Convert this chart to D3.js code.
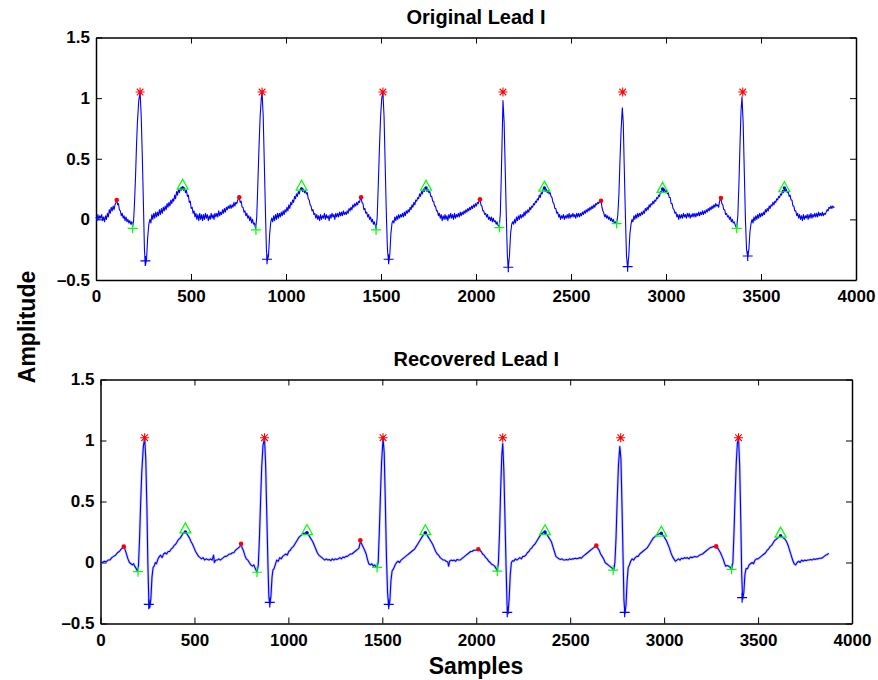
<!DOCTYPE html>
<meta charset="utf-8">
<style>
  body { margin: 0; background: #fff; }
  svg { font-family: "Liberation Sans", Arial, sans-serif; }
  .tick text { font-size: 17px; font-weight: bold; fill: #000; }
  .title { font-size: 20px; font-weight: bold; text-anchor: middle; }
  .label { font-size: 23px; font-weight: bold; text-anchor: middle; }
</style>
<svg width="878" height="680"></svg>
<script src="https://cdnjs.cloudflare.com/ajax/libs/d3/7.8.5/d3.min.js"></script>
<script>
// ticks
var xTicks = [0, 500, 1000, 1500, 2000, 2500, 3000, 3500, 4000];
var yTicks = [-0.5, 0, 0.5, 1, 1.5];

// Original lead I trace: [sample, amplitude]
var origLead = [
 [0,0.02],[5,-0.01],[10,0.04],[15,0.0],[20,0.03],[25,0.01],[30,0.04],[35,-0.01],[40,0.02],[45,-0.02],[50,0.03],[55,0.0],[60,0.05],[65,0.02],[70,0.08],[75,0.05],[80,0.1],[85,0.07],[90,0.11],[95,0.08],[100,0.12],[105,0.14],[109,0.16],[114,0.12],[118,0.13],[123,0.08],[128,0.07],[133,0.03],[138,0.05],[143,0.01],[148,0.03],[153,-0.01],[158,0.02],[163,-0.02],[168,0.0],[173,-0.03],[178,-0.01],[183,-0.04],[188,-0.02],[193,-0.06],[198,-0.01],[203,0.15],[208,0.35],[213,0.6],[218,0.8],[225,0.98],[232,1.05],[238,0.85],[244,0.5],[250,0.1],[255,-0.25],[260,-0.38],[266,-0.33],[272,-0.15],[278,-0.04],
 [284,0.0],[289,-0.03],[294,0.04],[299,0.0],[304,0.05],[309,0.01],[314,0.06],[319,0.02],[324,0.06],[329,0.03],[334,0.08],[339,0.04],[344,0.09],[349,0.05],[354,0.1],[359,0.07],[364,0.11],[369,0.08],[374,0.13],[379,0.1],[384,0.14],[389,0.11],[394,0.16],[399,0.13],[404,0.17],[409,0.15],[414,0.2],[419,0.17],[424,0.23],[429,0.2],[434,0.25],[439,0.22],[444,0.26],[449,0.24],[456,0.27],[461,0.24],[466,0.26],[471,0.22],[476,0.24],[481,0.19],[486,0.2],[491,0.14],[496,0.15],[501,0.09],[506,0.1],[511,0.05],[516,0.07],[521,0.02],[526,0.05],[531,0.0],[536,0.04],[541,-0.01],[546,0.05],[551,0.0],[556,0.04],[561,-0.01],[566,0.04],[571,0.0],[576,0.05],[581,0.01],[586,0.04],[591,-0.01],[596,0.03],[601,0.0],[606,0.05],[611,0.01],[616,0.04],[621,0.0],[626,0.05],[631,0.02],[636,0.05],[641,0.02],[646,0.07],[651,0.03],[656,0.06],[661,0.04],[666,0.08],[671,0.05],[676,0.09],[681,0.06],[686,0.1],[691,0.08],[696,0.11],[701,0.09],[706,0.12],[711,0.09],[716,0.12],[721,0.1],[726,0.14],[731,0.11],[736,0.14],[741,0.13],[746,0.16],[750,0.17],
 [754,0.18],[759,0.14],[764,0.15],[769,0.1],[774,0.1],[779,0.06],[784,0.07],[789,0.03],[794,0.05],[799,0.01],[804,0.03],[809,-0.01],[814,0.02],[819,-0.03],[824,0.0],[829,-0.04],[834,-0.03],[840,-0.08],[846,0.02],[852,0.3],[858,0.6],[864,0.85],[870,1.0],[874,1.05],[880,0.85],[886,0.45],[892,0.05],[897,-0.25],[902,-0.34],[908,-0.3],[914,-0.12],[920,-0.02],[925,0.01],[930,-0.02],
 [935,0.03],[940,-0.01],[945,0.04],[950,0.0],[955,0.05],[960,0.01],[965,0.05],[970,0.02],[975,0.06],[980,0.03],[985,0.07],[990,0.04],[995,0.08],[1000,0.06],[1005,0.1],[1010,0.07],[1015,0.12],[1020,0.09],[1025,0.14],[1030,0.12],[1035,0.16],[1040,0.14],[1045,0.19],[1050,0.17],[1055,0.21],[1060,0.19],[1065,0.23],[1070,0.21],[1075,0.25],[1082,0.26],[1087,0.23],[1092,0.25],[1097,0.22],[1102,0.24],[1107,0.21],[1112,0.22],[1117,0.17],[1122,0.16],[1127,0.12],[1132,0.11],[1137,0.07],[1142,0.08],[1147,0.04],[1152,0.05],[1157,0.01],
 [1162,0.04],[1167,0.0],[1172,0.03],[1177,-0.01],[1182,0.04],[1187,0.0],[1192,0.03],[1197,0.01],[1202,0.05],[1207,0.0],[1212,0.04],[1217,0.01],[1222,0.03],[1227,-0.01],[1232,0.04],[1237,0.01],[1242,0.05],[1247,0.02],[1252,0.04],[1257,0.0],[1262,0.05],[1267,0.02],[1272,0.05],[1277,0.02],[1282,0.06],[1287,0.03],[1292,0.06],[1297,0.03],[1302,0.07],[1307,0.04],[1312,0.06],[1317,0.04],[1322,0.07],[1327,0.05],[1332,0.09],[1337,0.07],[1342,0.1],[1347,0.08],[1352,0.12],[1357,0.1],[1362,0.13],[1367,0.11],[1372,0.14],[1377,0.12],[1382,0.15],[1387,0.14],[1391,0.17],[1395,0.18],[1400,0.14],[1405,0.13],[1410,0.08],[1415,0.09],[1420,0.05],[1425,0.06],[1430,0.02],[1435,0.04],[1440,0.0],[1445,0.02],[1450,-0.02],[1455,0.0],[1460,-0.04],[1465,-0.02],[1470,-0.05],[1474,-0.08],[1480,0.02],[1486,0.3],[1492,0.6],[1498,0.85],[1504,1.0],[1510,1.05],[1516,0.85],[1522,0.45],[1528,0.05],[1534,-0.25],[1540,-0.36],[1546,-0.3],[1552,-0.12],[1558,-0.03],[1563,-0.01],
 [1568,-0.03],[1573,0.02],[1578,-0.01],[1583,0.03],[1588,0.0],[1593,0.04],[1598,0.01],[1603,0.04],[1608,0.02],[1613,0.05],[1618,0.02],[1623,0.06],[1628,0.03],[1633,0.07],[1638,0.05],[1643,0.08],[1648,0.06],[1653,0.1],[1658,0.08],[1663,0.12],[1668,0.1],[1673,0.14],[1678,0.12],[1683,0.16],[1688,0.15],[1693,0.18],[1698,0.17],[1703,0.21],[1708,0.19],[1713,0.23],[1718,0.21],[1723,0.25],[1728,0.23],[1733,0.26],[1737,0.26],[1742,0.23],[1747,0.25],[1752,0.22],[1757,0.23],[1762,0.19],[1767,0.19],[1772,0.15],[1777,0.15],[1782,0.11],[1787,0.11],[1792,0.07],[1797,0.07],[1802,0.03],[1807,0.05],
 [1812,0.01],[1817,0.04],[1822,-0.01],[1827,0.03],[1832,0.0],[1837,0.04],[1842,0.0],[1847,0.03],[1852,-0.01],[1857,0.04],[1862,0.01],[1867,0.05],[1872,0.01],[1877,0.04],[1882,0.0],[1887,0.05],[1892,0.01],[1897,0.04],[1902,0.02],[1907,0.05],[1912,0.02],[1917,0.06],[1922,0.03],[1927,0.06],[1932,0.04],[1937,0.07],[1942,0.05],[1947,0.08],[1952,0.06],[1957,0.09],[1962,0.07],[1967,0.1],[1972,0.08],[1977,0.11],[1982,0.09],[1987,0.12],[1992,0.1],[1997,0.13],[2002,0.11],[2007,0.14],[2012,0.13],[2017,0.16],[2021,0.165],[2026,0.12],[2031,0.11],[2036,0.07],[2041,0.07],[2046,0.04],[2051,0.05],[2056,0.02],[2061,0.04],[2066,0.0],[2071,0.02],[2076,-0.01],[2081,0.02],[2086,-0.02],[2091,0.01],[2096,-0.02],[2101,-0.01],[2106,-0.04],[2111,-0.02],[2116,-0.05],[2123,-0.06],[2128,0.05],[2133,0.35],[2138,0.7],[2142,0.98],[2148,0.8],[2154,0.4],[2160,0.0],[2165,-0.3],[2170,-0.4],[2176,-0.3],[2182,-0.12],[2188,-0.04],[2193,-0.02],
 [2198,-0.04],[2203,0.0],[2208,-0.03],[2213,0.02],[2218,-0.01],[2223,0.03],[2228,0.0],[2233,0.04],[2238,0.01],[2243,0.04],[2248,0.02],[2253,0.06],[2258,0.03],[2263,0.07],[2268,0.05],[2273,0.08],[2278,0.06],[2283,0.1],[2288,0.08],[2293,0.11],[2298,0.1],[2303,0.13],[2308,0.12],[2313,0.15],[2318,0.14],[2323,0.17],[2328,0.16],[2333,0.2],[2338,0.18],[2343,0.22],[2348,0.21],[2353,0.25],[2360,0.26],[2365,0.23],[2370,0.25],[2375,0.22],[2380,0.24],[2385,0.21],[2390,0.22],[2395,0.19],[2400,0.18],[2405,0.14],[2410,0.13],[2415,0.09],[2420,0.09],[2425,0.05],[2430,0.06],
 [2435,0.02],[2440,0.04],[2445,0.0],[2450,0.03],[2455,0.01],[2460,0.04],[2465,0.0],[2470,0.03],[2475,0.01],[2480,0.04],[2485,0.01],[2490,0.05],[2495,0.01],[2500,0.04],[2505,0.02],[2510,0.05],[2515,0.02],[2520,0.04],[2525,0.01],[2530,0.05],[2535,0.02],[2540,0.05],[2545,0.02],[2550,0.05],[2555,0.03],[2560,0.06],[2565,0.04],[2570,0.07],[2575,0.05],[2580,0.08],[2585,0.06],[2590,0.09],[2595,0.07],[2600,0.1],[2605,0.08],[2610,0.11],[2615,0.09],[2620,0.12],[2625,0.1],[2630,0.13],[2635,0.12],[2640,0.14],[2645,0.13],[2650,0.15],[2654,0.14],[2658,0.155],[2663,0.1],[2668,0.07],[2673,0.05],[2678,0.02],[2683,0.04],[2688,0.01],[2693,0.03],[2698,0.0],[2703,0.02],[2708,-0.01],[2713,0.01],[2718,-0.02],[2723,0.0],[2728,-0.03],[2734,-0.02],[2740,-0.035],[2746,0.03],[2752,0.2],[2758,0.5],[2764,0.75],[2770,0.92],[2775,0.8],[2780,0.45],[2786,0.05],[2792,-0.3],[2798,-0.4],[2804,-0.3],[2810,-0.12],[2816,-0.04],[2821,0.0],
 [2826,-0.02],[2831,0.03],[2836,0.0],[2841,0.04],[2846,0.01],[2851,0.05],[2856,0.02],[2861,0.05],[2866,0.03],[2871,0.06],[2876,0.04],[2881,0.07],[2886,0.05],[2891,0.09],[2896,0.07],[2901,0.1],[2906,0.08],[2911,0.12],[2916,0.1],[2921,0.13],[2926,0.12],[2931,0.15],[2936,0.13],[2941,0.16],[2946,0.15],[2951,0.18],[2956,0.17],[2961,0.2],[2966,0.19],[2971,0.23],[2976,0.22],[2982,0.25],[2987,0.23],[2992,0.25],[2997,0.22],[3002,0.24],[3007,0.21],[3012,0.22],[3017,0.18],[3022,0.18],[3027,0.13],[3032,0.13],[3037,0.09],[3042,0.08],[3047,0.05],[3052,0.06],[3057,0.02],
 [3062,0.04],[3067,0.0],[3072,0.04],[3077,0.01],[3082,0.04],[3087,0.01],[3092,0.05],[3097,0.02],[3102,0.04],[3107,0.01],[3112,0.05],[3117,0.02],[3122,0.05],[3127,0.01],[3132,0.04],[3137,0.02],[3142,0.05],[3147,0.02],[3152,0.05],[3157,0.02],[3162,0.05],[3167,0.03],[3172,0.06],[3177,0.03],[3182,0.06],[3187,0.04],[3192,0.07],[3197,0.04],[3202,0.07],[3207,0.05],[3212,0.08],[3217,0.06],[3222,0.09],[3227,0.07],[3232,0.1],[3237,0.08],[3242,0.11],[3247,0.09],[3252,0.12],[3257,0.1],[3262,0.13],[3267,0.11],[3272,0.12],[3277,0.1],[3282,0.15],[3289,0.175],[3294,0.13],[3299,0.12],[3304,0.08],[3309,0.08],[3314,0.04],[3319,0.05],[3324,0.02],[3329,0.03],[3334,0.0],[3339,0.02],[3344,-0.02],[3349,0.0],[3354,-0.03],[3359,-0.02],[3365,-0.05],[3372,-0.07],[3378,0.03],[3384,0.3],[3390,0.65],[3395,0.9],[3400,1.01],[3406,0.8],[3412,0.4],[3418,0.0],[3424,-0.25],[3430,-0.31],[3436,-0.25],[3442,-0.1],[3448,-0.03],[3453,0.0],
 [3458,-0.03],[3463,0.02],[3468,-0.01],[3473,0.03],[3478,0.0],[3483,0.04],[3488,0.01],[3493,0.05],[3498,0.02],[3503,0.05],[3508,0.03],[3513,0.06],[3518,0.04],[3523,0.08],[3528,0.06],[3533,0.09],[3538,0.07],[3543,0.11],[3548,0.09],[3553,0.12],[3558,0.11],[3563,0.14],[3568,0.12],[3573,0.15],[3578,0.14],[3583,0.17],[3588,0.16],[3593,0.19],[3598,0.18],[3603,0.21],[3608,0.2],[3613,0.24],[3618,0.22],[3623,0.26],[3628,0.23],[3633,0.25],[3638,0.22],[3643,0.23],[3648,0.19],[3653,0.2],[3658,0.16],[3663,0.16],[3668,0.11],[3673,0.11],[3678,0.07],[3683,0.07],[3688,0.03],[3693,0.05],
 [3698,0.01],[3703,0.04],[3708,0.0],[3713,0.03],[3718,-0.01],[3723,0.04],[3728,0.0],[3733,0.03],[3738,0.01],[3743,0.04],[3748,0.0],[3753,0.04],[3758,0.01],[3763,0.05],[3768,0.01],[3773,0.04],[3778,0.02],[3783,0.05],[3788,0.02],[3793,0.05],[3798,0.02],[3803,0.06],[3808,0.03],[3813,0.05],[3818,0.03],[3823,0.06],[3828,0.03],[3833,0.05],[3838,0.04],[3843,0.06],[3848,0.08],[3853,0.07],[3858,0.1],[3863,0.09],[3868,0.11],[3873,0.09],[3878,0.11],[3886,0.095]
];

// Recovered lead I trace: [sample, amplitude]
var recLead = [
 [0,0.005],[10,0.0],[20,0.01],[30,0.005],[40,0.02],[50,0.02],[60,0.04],[70,0.05],[80,0.06],[90,0.08],[100,0.09],[110,0.11],[118,0.12],[124,0.125],[130,0.11],[138,0.07],[146,0.03],[154,0.0],[162,-0.01],[170,-0.02],[176,-0.01],[182,-0.03],[190,-0.05],[196,-0.07],[202,-0.03],[208,0.2],[214,0.5],[220,0.75],[228,0.95],[235,1.02],[241,0.85],[247,0.45],[252,0.0],[257,-0.3],[262,-0.37],[268,-0.3],[274,-0.12],[280,-0.04],[286,-0.03],[292,0.0],[298,-0.01],
 [306,0.03],[314,0.05],[320,0.06],[328,0.04],[336,0.07],[344,0.08],[352,0.07],[360,0.09],[368,0.09],[376,0.11],[384,0.12],[392,0.14],[400,0.15],[408,0.17],[416,0.19],[424,0.2],[432,0.22],[440,0.24],[448,0.25],[452,0.25],[458,0.24],[466,0.22],[474,0.2],[482,0.17],[490,0.15],[498,0.12],[506,0.09],[514,0.07],[522,0.05],[530,0.04],[538,0.03],[546,0.04],[554,0.02],[562,0.03],[570,0.025],[578,0.02],[586,0.03],[594,0.02],[602,0.06],[606,0.0],[614,0.02],[622,0.02],[630,0.03],[638,0.02],[646,0.03],[654,0.04],[662,0.05],[670,0.05],[678,0.06],[686,0.07],[694,0.07],[702,0.08],[710,0.08],[718,0.1],[726,0.11],[734,0.12],[742,0.13],[748,0.15],[754,0.12],[760,0.1],[768,0.06],[776,0.03],[784,0.02],[792,0.0],[800,-0.02],[808,-0.03],[816,-0.02],[824,-0.05],[833,-0.08],[840,-0.02],[846,0.2],[852,0.5],[858,0.78],[865,0.96],[873,1.02],[879,0.8],[885,0.4],[891,0.0],[896,-0.28],[901,-0.34],[907,-0.28],[913,-0.12],[918,-0.06],[924,-0.05],[930,-0.02],
 [938,0.02],[946,0.01],[954,0.04],[962,0.03],[970,0.05],[978,0.06],[986,0.07],[994,0.06],[1002,0.09],[1010,0.1],[1018,0.12],[1026,0.13],[1034,0.15],[1042,0.17],[1050,0.19],[1058,0.21],[1066,0.22],[1074,0.23],[1082,0.24],[1090,0.24],[1099,0.245],[1106,0.23],[1114,0.21],[1122,0.19],[1130,0.17],[1138,0.14],[1146,0.11],[1154,0.08],[1162,0.06],[1170,0.05],[1178,0.04],[1186,0.03],[1194,0.02],[1202,0.03],[1210,0.02],[1218,0.025],[1226,0.015],[1234,0.03],[1242,0.02],[1250,0.03],[1258,0.025],[1266,0.03],[1274,0.04],[1282,0.03],[1290,0.045],[1298,0.04],[1306,0.05],[1314,0.05],[1322,0.06],[1330,0.07],[1338,0.07],[1346,0.08],[1354,0.09],[1362,0.1],[1370,0.11],[1376,0.12],[1383,0.17],[1388,0.16],[1394,0.14],[1400,0.12],[1406,0.1],[1414,0.07],[1420,0.03],[1428,-0.01],[1436,-0.02],[1444,-0.01],[1452,-0.03],[1460,-0.02],[1466,-0.04],[1472,-0.04],[1478,0.0],[1484,0.25],[1490,0.55],[1496,0.82],[1504,1.02],[1510,0.9],[1516,0.5],[1522,0.05],[1528,-0.25],[1534,-0.36],[1540,-0.32],[1546,-0.15],[1552,-0.07],[1560,-0.05],
 [1568,-0.02],[1576,0.0],[1584,0.01],[1592,0.0],[1600,0.02],[1608,0.03],[1616,0.04],[1624,0.05],[1632,0.06],[1640,0.07],[1648,0.08],[1656,0.09],[1664,0.1],[1672,0.11],[1680,0.13],[1688,0.15],[1696,0.17],[1704,0.19],[1712,0.21],[1720,0.23],[1729,0.245],[1736,0.23],[1744,0.21],[1752,0.19],[1760,0.17],[1768,0.15],[1776,0.12],[1784,0.09],[1792,0.07],[1800,0.06],[1808,0.04],[1816,0.03],[1824,0.02],[1832,0.02],[1840,0.01],[1848,0.005],[1853,-0.03],[1858,0.01],[1866,0.02],[1874,0.015],[1882,0.02],[1890,0.01],[1898,0.025],[1906,0.02],[1914,0.02],[1922,0.03],[1930,0.04],[1938,0.05],[1946,0.06],[1954,0.07],[1962,0.08],[1970,0.09],[1978,0.09],[1986,0.1],[1994,0.1],[2002,0.1],[2011,0.105],[2018,0.1],[2026,0.09],[2034,0.07],[2042,0.06],[2050,0.04],[2058,0.03],[2066,0.01],[2074,0.0],[2082,-0.015],[2090,-0.02],[2098,-0.03],[2106,-0.05],[2112,-0.07],[2118,0.0],[2124,0.25],[2130,0.6],[2136,0.88],[2141,0.975],[2147,0.75],[2153,0.35],[2159,-0.05],[2164,-0.35],[2169,-0.42],[2175,-0.3],[2181,-0.1],[2187,0.0],[2193,0.015],
 [2200,0.01],[2208,0.03],[2216,0.02],[2224,0.03],[2232,0.04],[2240,0.03],[2248,0.05],[2256,0.05],[2264,0.06],[2272,0.08],[2280,0.09],[2288,0.11],[2296,0.12],[2304,0.14],[2312,0.15],[2320,0.17],[2328,0.19],[2336,0.21],[2344,0.23],[2352,0.24],[2360,0.25],[2368,0.24],[2376,0.23],[2384,0.21],[2392,0.19],[2400,0.17],[2408,0.13],[2416,0.09],[2424,0.05],[2432,0.04],[2440,0.03],[2448,0.025],[2456,0.03],[2464,0.02],[2472,0.02],[2480,0.025],[2488,0.02],[2496,0.03],[2504,0.025],[2512,0.03],[2520,0.03],[2528,0.035],[2536,0.03],[2544,0.035],[2552,0.04],[2560,0.035],[2568,0.05],[2576,0.06],[2584,0.07],[2592,0.08],[2600,0.09],[2608,0.1],[2616,0.11],[2624,0.12],[2632,0.13],[2639,0.138],[2646,0.12],[2654,0.1],[2662,0.07],[2670,0.05],[2678,0.03],[2686,0.0],[2694,-0.01],[2702,-0.02],[2710,-0.03],[2718,-0.04],[2726,-0.05],[2732,-0.06],[2738,0.0],[2744,0.2],[2750,0.5],[2757,0.8],[2764,0.95],[2770,0.85],[2776,0.45],[2782,0.0],[2786,-0.3],[2791,-0.42],[2797,-0.35],[2803,-0.15],[2809,-0.04],[2815,-0.02],[2822,0.01],
 [2830,0.03],[2838,0.02],[2846,0.04],[2854,0.05],[2862,0.05],[2870,0.07],[2878,0.08],[2886,0.09],[2894,0.1],[2902,0.11],[2910,0.12],[2918,0.14],[2926,0.16],[2934,0.18],[2942,0.2],[2950,0.21],[2958,0.22],[2966,0.23],[2974,0.235],[2981,0.24],[2988,0.23],[2996,0.22],[3004,0.2],[3012,0.18],[3020,0.15],[3028,0.12],[3036,0.08],[3044,0.05],[3052,0.03],[3060,0.01],[3068,0.02],[3076,0.03],[3084,0.02],[3092,0.035],[3100,0.03],[3108,0.04],[3116,0.035],[3124,0.04],[3132,0.03],[3140,0.045],[3148,0.04],[3156,0.045],[3164,0.05],[3172,0.045],[3180,0.05],[3188,0.06],[3196,0.065],[3204,0.07],[3212,0.08],[3220,0.09],[3228,0.1],[3236,0.11],[3244,0.12],[3252,0.125],[3260,0.13],[3268,0.13],[3277,0.13],[3284,0.12],[3292,0.1],[3300,0.08],[3308,0.05],[3316,0.02],[3322,-0.01],[3328,-0.03],[3336,-0.025],[3344,-0.03],[3352,-0.04],[3359,-0.056],[3366,0.0],[3372,0.25],[3378,0.55],[3384,0.82],[3390,0.98],[3396,1.02],[3402,0.8],[3408,0.35],[3413,-0.1],[3418,-0.3],[3424,-0.25],[3430,-0.1],[3436,-0.05],[3444,-0.05],[3452,-0.02],[3460,-0.01],
 [3468,0.0],[3476,-0.01],[3484,0.02],[3492,0.03],[3500,0.03],[3508,0.04],[3516,0.05],[3524,0.06],[3532,0.07],[3540,0.08],[3548,0.1],[3556,0.11],[3564,0.13],[3572,0.14],[3580,0.16],[3588,0.18],[3596,0.19],[3604,0.2],[3612,0.21],[3620,0.22],[3628,0.21],[3636,0.2],[3644,0.19],[3652,0.17],[3660,0.14],[3668,0.1],[3676,0.06],[3684,0.02],[3692,-0.01],[3700,-0.02],[3708,0.0],[3716,0.01],[3724,0.0],[3732,0.02],[3740,0.01],[3748,0.02],[3756,0.015],[3764,0.02],[3772,0.02],[3780,0.025],[3788,0.02],[3796,0.03],[3804,0.025],[3812,0.03],[3820,0.03],[3828,0.035],[3836,0.035],[3844,0.04],[3852,0.05],[3860,0.06],[3868,0.065],[3877,0.075]
];

// detected points, original
var rPeaksOrig = [[232,1.05],[874,1.05],[1510,1.05],[2142,1.05],[2772,1.05],[3404,1.05]];
var pPeaksOrig = [[109,0.16],[754,0.182],[1395,0.182],[2021,0.165],[2658,0.154],[3289,0.176]];
var qPointsOrig = [[193,-0.074],[842,-0.087],[1474,-0.087],[2123,-0.068],[2740,-0.035],[3372,-0.074]];
var sPointsOrig = [[260,-0.343],[900,-0.329],[1540,-0.329],[2170,-0.395],[2798,-0.39],[3430,-0.302]];
var tPeaksOrig = [[456,0.286],[1082,0.278],[1737,0.278],[2360,0.27],[2982,0.26],[3623,0.265]];
var tDotsOrig = [[456,0.26],[1082,0.25],[1737,0.26],[2360,0.26],[2982,0.25],[3623,0.26]];

// detected points, recovered
var rPeaksRec = [[235,1.023],[873,1.023],[1504,1.023],[2141,1.023],[2769,1.023],[3396,1.023]];
var pPeaksRec = [[124,0.13],[748,0.154],[1383,0.182],[2011,0.108],[2639,0.138],[3277,0.132]];
var qPointsRec = [[200,-0.075],[833,-0.08],[1472,-0.04],[2112,-0.07],[2729,-0.062],[3359,-0.056]];
var sPointsRec = [[257,-0.343],[901,-0.327],[1534,-0.343],[2165,-0.408],[2790,-0.408],[3415,-0.288]];
var tPeaksRec = [[452,0.28],[1099,0.266],[1729,0.265],[2366,0.265],[2985,0.253],[3620,0.245]];
var tDotsRec = [[452,0.25],[1099,0.245],[1729,0.245],[2366,0.25],[2985,0.24],[3620,0.22]];

var svg = d3.select("svg");

function drawPanel(p) {
  var x = d3.scaleLinear().domain([0, 4000]).range([p.left, p.right]);
  var y = d3.scaleLinear().domain([-0.5, 1.5]).range([p.bottom, p.top]);
  var g = svg.append("g");

  // axes, ticks pointing inward
  g.append("g").attr("transform", "translate(0," + p.bottom + ")")
    .call(d3.axisBottom(x).tickValues(xTicks).tickSizeInner(-6).tickSizeOuter(0).tickPadding(10).tickFormat(d3.format("d")));
  g.append("g").attr("transform", "translate(0," + p.top + ")")
    .call(d3.axisTop(x).tickValues(xTicks).tickSizeInner(-6).tickSizeOuter(0).tickFormat(""));
  g.append("g").attr("transform", "translate(" + p.left + ",0)")
    .call(d3.axisLeft(y).tickValues(yTicks).tickSizeInner(-6).tickSizeOuter(0).tickPadding(6).tickFormat(function(d){ return d < 0 ? "\u2013" + Math.abs(d) : d; }));
  g.append("g").attr("transform", "translate(" + p.right + ",0)")
    .call(d3.axisRight(y).tickValues(yTicks).tickSizeInner(-6).tickSizeOuter(0).tickFormat(""));
  g.selectAll(".domain").attr("stroke", "#000").attr("stroke-width", 1.5);
  g.selectAll(".tick line").attr("stroke", "#000").attr("stroke-width", 1);

  // signal
  var line = d3.line().x(function(d){ return x(d[0]); }).y(function(d){ return y(d[1]); });
  if (p.halo) {
    g.append("path").datum(p.trace)
      .attr("fill", "none").attr("stroke", "#8c8cff").attr("stroke-opacity", 0.45).attr("stroke-width", 2.6)
      .attr("stroke-linejoin", "round").attr("d", line);
  }
  g.append("path").datum(p.trace)
    .attr("fill", "none").attr("stroke", "#0000ff").attr("stroke-width", 1.1)
    .attr("stroke-linejoin", "round").attr("d", line);

  // Q points (green +) and S points (blue +)
  function plus(data, color) {
    g.selectAll(null).data(data).enter().append("path")
      .attr("transform", function(d){ return "translate(" + x(d[0]) + "," + y(d[1]) + ")"; })
      .attr("d", "M-5,0H5M0,-5V5")
      .attr("stroke", color).attr("stroke-width", 1.2).attr("fill", "none");
  }
  plus(p.q, "#00ff00");
  plus(p.s, "#0000ff");

  // T peaks (green open triangle) with blue dot
  g.selectAll(null).data(p.tDots).enter().append("circle")
    .attr("cx", function(d){ return x(d[0]); }).attr("cy", function(d){ return y(d[1]); })
    .attr("r", 1.7).attr("fill", "#0000d0");
  g.selectAll(null).data(p.t).enter().append("path")
    .attr("transform", function(d){ return "translate(" + x(d[0]) + "," + y(d[1]) + ")"; })
    .attr("d", "M0,-5.5L5.5,4.5L-5.5,4.5Z")
    .attr("stroke", "#00ff00").attr("stroke-width", 1.2).attr("fill", "none");

  // P peaks (red dot)
  g.selectAll(null).data(p.p).enter().append("circle")
    .attr("cx", function(d){ return x(d[0]); }).attr("cy", function(d){ return y(d[1]); })
    .attr("r", 2.3).attr("fill", "#ff0000");

  // R peaks (red asterisk)
  g.selectAll(null).data(p.r).enter().append("path")
    .attr("transform", function(d){ return "translate(" + x(d[0]) + "," + y(d[1]) + ")"; })
    .attr("d", "M-4.5,0H4.5M0,-4.5V4.5M-3.3,-3.3L3.3,3.3M-3.3,3.3L3.3,-3.3")
    .attr("stroke", "#ff0000").attr("stroke-width", 1.1).attr("fill", "none");

  svg.append("text").attr("class", "title")
    .attr("x", (p.left + p.right) / 2).attr("y", p.top - 14).text(p.title);
}

drawPanel({ left: 96, right: 856, top: 37.5, bottom: 280, title: "Original Lead I", halo: false,
  trace: origLead, r: rPeaksOrig, p: pPeaksOrig, q: qPointsOrig, s: sPointsOrig, t: tPeaksOrig, tDots: tDotsOrig });
drawPanel({ left: 100.5, right: 852, top: 379.5, bottom: 623.5, title: "Recovered Lead I", halo: true,
  trace: recLead, r: rPeaksRec, p: pPeaksRec, q: qPointsRec, s: sPointsRec, t: tPeaksRec, tDots: tDotsRec });

// shared axis labels
svg.append("text").attr("class", "label")
  .attr("transform", "translate(35,327) rotate(-90)").text("Amplitude");
svg.append("text").attr("class", "label")
  .attr("x", 476).attr("y", 674).text("Samples");
</script>
